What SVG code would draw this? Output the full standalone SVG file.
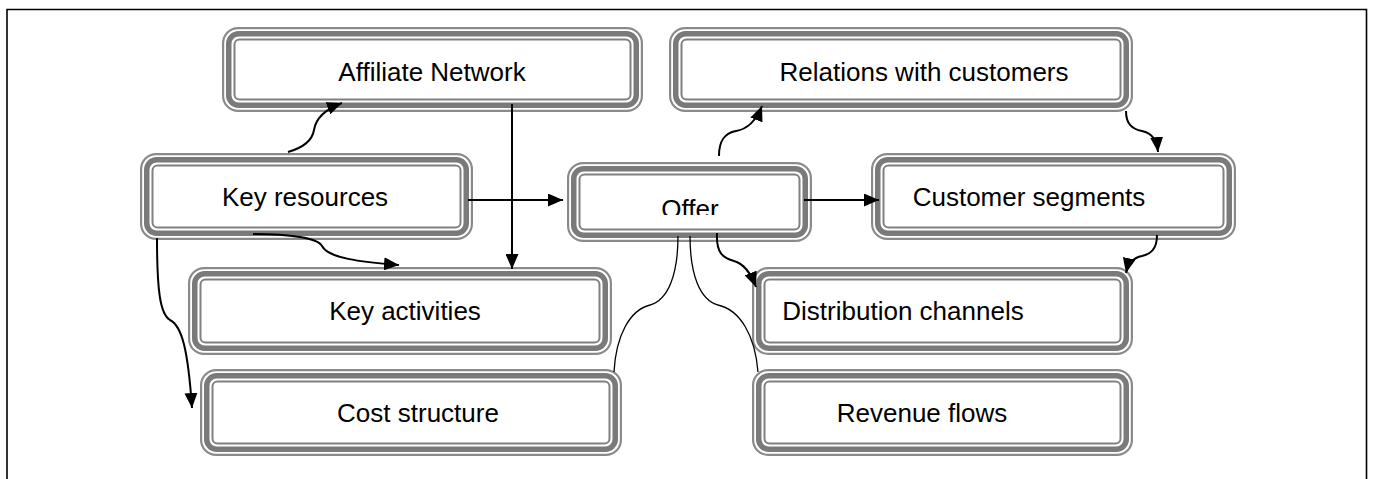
<svg xmlns="http://www.w3.org/2000/svg" width="1373" height="479" viewBox="0 0 1373 479">
<style>
.o{fill:#fff;stroke:#8a8a8a;stroke-width:2.2}
.m{fill:none;stroke:#7a7a7a;stroke-width:5.5}
.i{fill:none;stroke:#808080;stroke-width:2}
text{font-family:"Liberation Sans",Arial,sans-serif;font-size:26px;fill:#000;text-anchor:middle}
.c{fill:none;stroke:#000;stroke-width:2}
.t{fill:none;stroke:#000;stroke-width:1.3}
.a{marker-end:url(#arr)}
</style>
<defs>
<marker id="arr" markerUnits="userSpaceOnUse" markerWidth="16" markerHeight="13" refX="15" refY="6.5" orient="auto">
<path d="M0,0 L15,6.5 L0,13 z" fill="#000"/>
</marker>
<clipPath id="offclip"><rect x="567" y="160" width="245" height="55"/></clipPath>
</defs>
<rect width="1373" height="479" fill="#fff"/>
<path d="M7,479 V9.5 H1366.5 V479" fill="none" stroke="#000" stroke-width="1.6"/>

<g id="affiliate-network">
<rect class="o" x="223.1" y="28.1" width="418.8" height="82.8" rx="15"/>
<rect class="m" x="228.75" y="33.75" width="407.5" height="71.5" rx="10"/>
<rect class="i" x="234.5" y="39.5" width="396" height="60" rx="5"/>
<text x="432" y="81">Affiliate Network</text>
</g>
<g id="relations-with-customers">
<rect class="o" x="670.1" y="28.1" width="461.8" height="82.8" rx="15"/>
<rect class="m" x="675.75" y="33.75" width="450.5" height="71.5" rx="10"/>
<rect class="i" x="681.5" y="39.5" width="439" height="60" rx="5"/>
<text x="924" y="81">Relations with customers</text>
</g>
<g id="key-resources">
<rect class="o" x="141.1" y="154.1" width="330.8" height="84.8" rx="15"/>
<rect class="m" x="146.75" y="159.75" width="319.5" height="73.5" rx="10"/>
<rect class="i" x="152.5" y="165.5" width="308" height="62" rx="5"/>
<text x="305" y="206">Key resources</text>
</g>
<g id="offer">
<rect class="o" x="568.1" y="163.1" width="242.8" height="77.8" rx="15"/>
<rect class="m" x="573.75" y="168.75" width="231.5" height="66.5" rx="10"/>
<rect class="i" x="579.5" y="174.5" width="220" height="55" rx="5"/>
<text x="690" y="218" clip-path="url(#offclip)">Offer</text>
</g>
<g id="customer-segments">
<rect class="o" x="872.1" y="154.1" width="362.8" height="84.8" rx="15"/>
<rect class="m" x="877.75" y="159.75" width="351.5" height="73.5" rx="10"/>
<rect class="i" x="883.5" y="165.5" width="340" height="62" rx="5"/>
<text x="1029" y="206">Customer segments</text>
</g>
<g id="key-activities">
<rect class="o" x="189.1" y="268.1" width="421.8" height="85.8" rx="15"/>
<rect class="m" x="194.75" y="273.75" width="410.5" height="74.5" rx="10"/>
<rect class="i" x="200.5" y="279.5" width="399" height="63" rx="5"/>
<text x="405" y="320">Key activities</text>
</g>
<g id="distribution-channels">
<rect class="o" x="753.1" y="268.1" width="378.8" height="85.8" rx="15"/>
<rect class="m" x="758.75" y="273.75" width="367.5" height="74.5" rx="10"/>
<rect class="i" x="764.5" y="279.5" width="356" height="63" rx="5"/>
<text x="903" y="320">Distribution channels</text>
</g>
<g id="cost-structure">
<rect class="o" x="201.1" y="370.1" width="419.8" height="84.8" rx="15"/>
<rect class="m" x="206.75" y="375.75" width="408.5" height="73.5" rx="10"/>
<rect class="i" x="212.5" y="381.5" width="397" height="62" rx="5"/>
<text x="418" y="422">Cost structure</text>
</g>
<g id="revenue-flows">
<rect class="o" x="753.1" y="370.1" width="378.8" height="84.8" rx="15"/>
<rect class="m" x="758.75" y="375.75" width="367.5" height="73.5" rx="10"/>
<rect class="i" x="764.5" y="381.5" width="356" height="62" rx="5"/>
<text x="922" y="422">Revenue flows</text>
</g>

<g id="connectors">
<path class="c a" d="M288,152 C302,148 312,142 314,130 C316,117 326,109 342,103"/>
<path class="c a" d="M512,104 V269"/>
<path class="c a" d="M468,200 H563"/>
<path class="c a" d="M253,234 C290,234 318,238 322,246 C328,258 360,262 399,265"/>
<path class="c a" d="M157,238 C157,290 160,314 170,320 C182,326 188,350 192,408"/>
<path class="c a" d="M719,156 C719,140 725,133 736,131 C748,129 756,121 762,106"/>
<path class="c a" d="M804,200 H879"/>
<path class="c a" d="M1126,111 C1126,124 1132,129 1142,131 C1152,133 1157,141 1158,152"/>
<path class="c a" d="M1157,235 C1157,250 1150,254 1142,256 C1132,258 1128,264 1126,273"/>
<path class="c a" d="M717,233 C716,253 723,258 734,261 C745,264 751,274 756,287"/>
<path class="t" d="M678,236 C678,275 668,300 650,305 C630,310 616,335 614,372"/>
<path class="t" d="M690,236 C690,275 700,300 718,305 C740,310 755,335 758,372"/>
</g>
</svg>
